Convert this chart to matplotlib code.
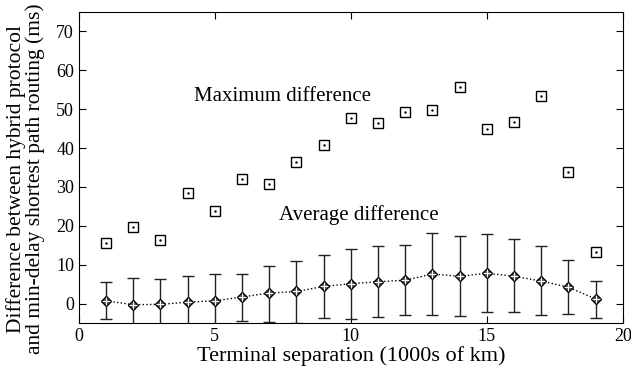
import matplotlib
matplotlib.use('Agg')
import matplotlib.pyplot as plt
import numpy as np

plt.rcParams['font.family'] = ['Liberation Serif', 'DejaVu Serif']

# terminal separation (1000s of km)
sep = np.arange(1, 20)

max_diff = [15.5, 19.6, 16.3, 28.4, 23.9, 32.1, 30.8, 36.4, 40.7, 47.8,
            46.4, 49.3, 49.7, 55.8, 44.9, 46.6, 53.5, 33.9, 13.2]

avg_diff = [0.7, -0.3, -0.2, 0.35, 0.7, 1.7, 2.7, 3.1, 4.4, 5.1,
            5.6, 6.0, 7.6, 7.0, 7.8, 7.0, 5.8, 4.2, 1.2]
err_hi = [5.6, 6.6, 6.2, 7.0, 7.7, 7.6, 9.6, 10.9, 12.5, 14.0,
          14.7, 15.0, 18.2, 17.4, 17.8, 16.6, 14.7, 11.2, 5.9]
err_lo = [-4.0, -6.5, -6.5, -6.5, -6.5, -4.5, -4.7, -5.0, -3.8, -3.9,
          -3.4, -3.0, -3.0, -3.2, -2.2, -2.3, -3.0, -2.6, -3.6]

avg = np.array(avg_diff)
yerr = [avg - np.array(err_lo), np.array(err_hi) - avg]

fig = plt.figure(figsize=(6.31, 3.66), dpi=100)
ax = fig.add_axes([0.125, 0.1175, 0.862, 0.85])

# maximum difference: hollow squares with a centre dot
ax.plot(sep, max_diff, 's', ms=7, mfc='white', mec='black', mew=1.0)
ax.plot(sep, max_diff, '.', ms=1.5, color='black')

# average difference with spread
ax.errorbar(sep, avg, yerr=yerr, fmt='none', ecolor='#222222', elinewidth=1.0,
            capsize=4, capthick=1.0)
ax.plot(sep, avg, ':', color='black', lw=1.0)
ax.plot(sep, avg, 'D', ms=5, mfc='#666666', mec='black', mew=1.0)
ax.plot(sep, avg, '+', ms=6, color='white', mew=0.7)

ax.text(7.5, 53.2, 'Maximum difference', ha='center', va='center', fontsize=15)
ax.text(10.3, 22.8, 'Average difference', ha='center', va='center', fontsize=15)

ax.set_xlim(0, 20)
ax.set_ylim(-5, 75)
ax.set_xticks([0, 5, 10, 15, 20])
ax.set_yticks(range(0, 80, 10))
ax.tick_params(direction='in', top=True, right=True, labelsize=13, length=5)
ax.set_xlabel('Terminal separation (1000s of km)', fontsize=16, labelpad=1)
ax.set_ylabel('Difference between hybrid protocol\nand min-delay shortest path routing (ms)',
              fontsize=15.5, linespacing=0.95)
ax.yaxis.set_label_coords(-0.063, 0.463)

fig.savefig('out.png', dpi=100)
